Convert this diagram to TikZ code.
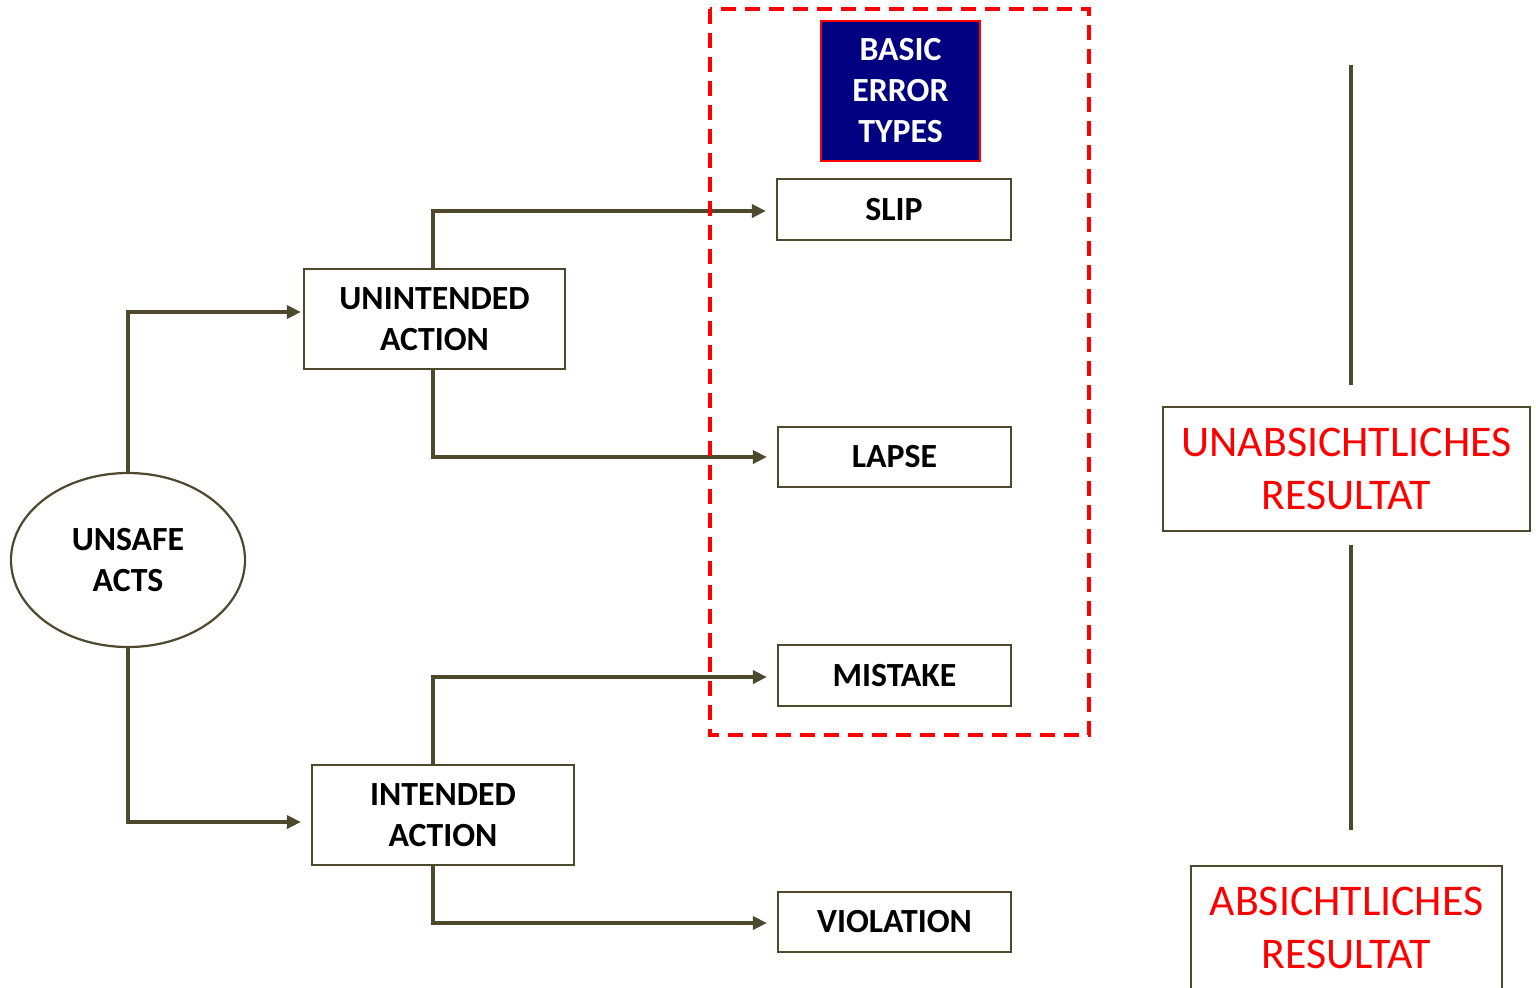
\documentclass[tikz,border=0pt]{standalone}
\usepackage{fontspec}
\setmainfont{Carlito}
\usetikzlibrary{arrows.meta,shapes.geometric}
\definecolor{lineol}{RGB}{78,72,44}
\definecolor{navyb}{RGB}{0,0,128}
\definecolor{redc}{RGB}{255,0,0}
\begin{document}
\begin{tikzpicture}[x=0.5pt,y=-0.5pt,
 box/.style={draw=lineol, line width=1.1pt, fill=white, align=center,
   font=\fontsize{16.9}{20.5}\selectfont\bfseries, inner sep=0pt},
 redbox/.style={draw=lineol, line width=1.1pt, fill=white, align=center, text=redc,
   font=\fontsize{21.9}{26.5}\selectfont, inner sep=0pt},
 conn/.style={draw=lineol, line width=2pt, -{Triangle[length=7pt,width=6.5pt]}},
 plainline/.style={draw=lineol, line width=2pt},
 group/.style={draw=redc, line width=2.4pt, dash pattern=on 7.5pt off 4.5pt},
]
\clip (0,0) rectangle (1536,987);
\fill[white] (0,0) rectangle (1536,987);

% nodes
\node[box, ellipse, minimum width=117pt, minimum height=87pt] (ua) at (128,560) {UNSAFE\\ACTS};
\node[box, minimum width=130.5pt, minimum height=50pt] (un) at (434.5,319) {UNINTENDED\\ACTION};
\node[box, minimum width=131pt, minimum height=50pt] (in) at (443,815) {INTENDED\\ACTION};
\node[box, minimum width=117pt, minimum height=30.5pt] (slip) at (894,209.5) {SLIP};
\node[box, minimum width=116.5pt, minimum height=30pt] (lapse) at (894.5,457) {LAPSE};
\node[box, minimum width=116.5pt, minimum height=30.5pt] (mistake) at (894.5,675.5) {MISTAKE};
\node[box, minimum width=116.5pt, minimum height=30pt] (viol) at (894.5,922) {VIOLATION};
\node[box, draw=redc, fill=navyb, text=white, minimum width=79.5pt, minimum height=70pt] (bet) at (900.5,91) {BASIC\\ERROR\\TYPES};
\node[redbox, minimum width=183.5pt, minimum height=62pt] (unres) at (1346.5,469) {UNABSICHTLICHES\\RESULTAT};
\node[redbox, minimum width=155.5pt, minimum height=62pt] (abres) at (1346.5,928) {ABSICHTLICHES\\RESULTAT};

% connectors
\draw[conn] (ua.north) |- ([xshift=-1pt]un.west |- 0,312);
\draw[conn] (ua.south) |- ([xshift=-5pt]in.west |- 0,822);
\draw[conn] (433,269) |- ([xshift=-5pt]slip.west |- 0,211);
\draw[conn] (433,369) |- ([xshift=-5pt]lapse.west);
\draw[conn] (433,765) |- ([xshift=-5pt]mistake.west |- 0,677);
\draw[conn] (433,865) |- ([xshift=-5pt]viol.west |- 0,923);

% dashed group
\draw[group] (710,9) rectangle (1089,735);

% vertical lines
\coordinate (vt1) at (1351,65);
\coordinate (vb1) at (1351,385);
\coordinate (vt2) at (1351,545);
\coordinate (vb2) at (1351,830);
\draw[plainline] (vt1) -- (vb1);
\draw[plainline] (vt2) -- (vb2);
\end{tikzpicture}
\end{document}
